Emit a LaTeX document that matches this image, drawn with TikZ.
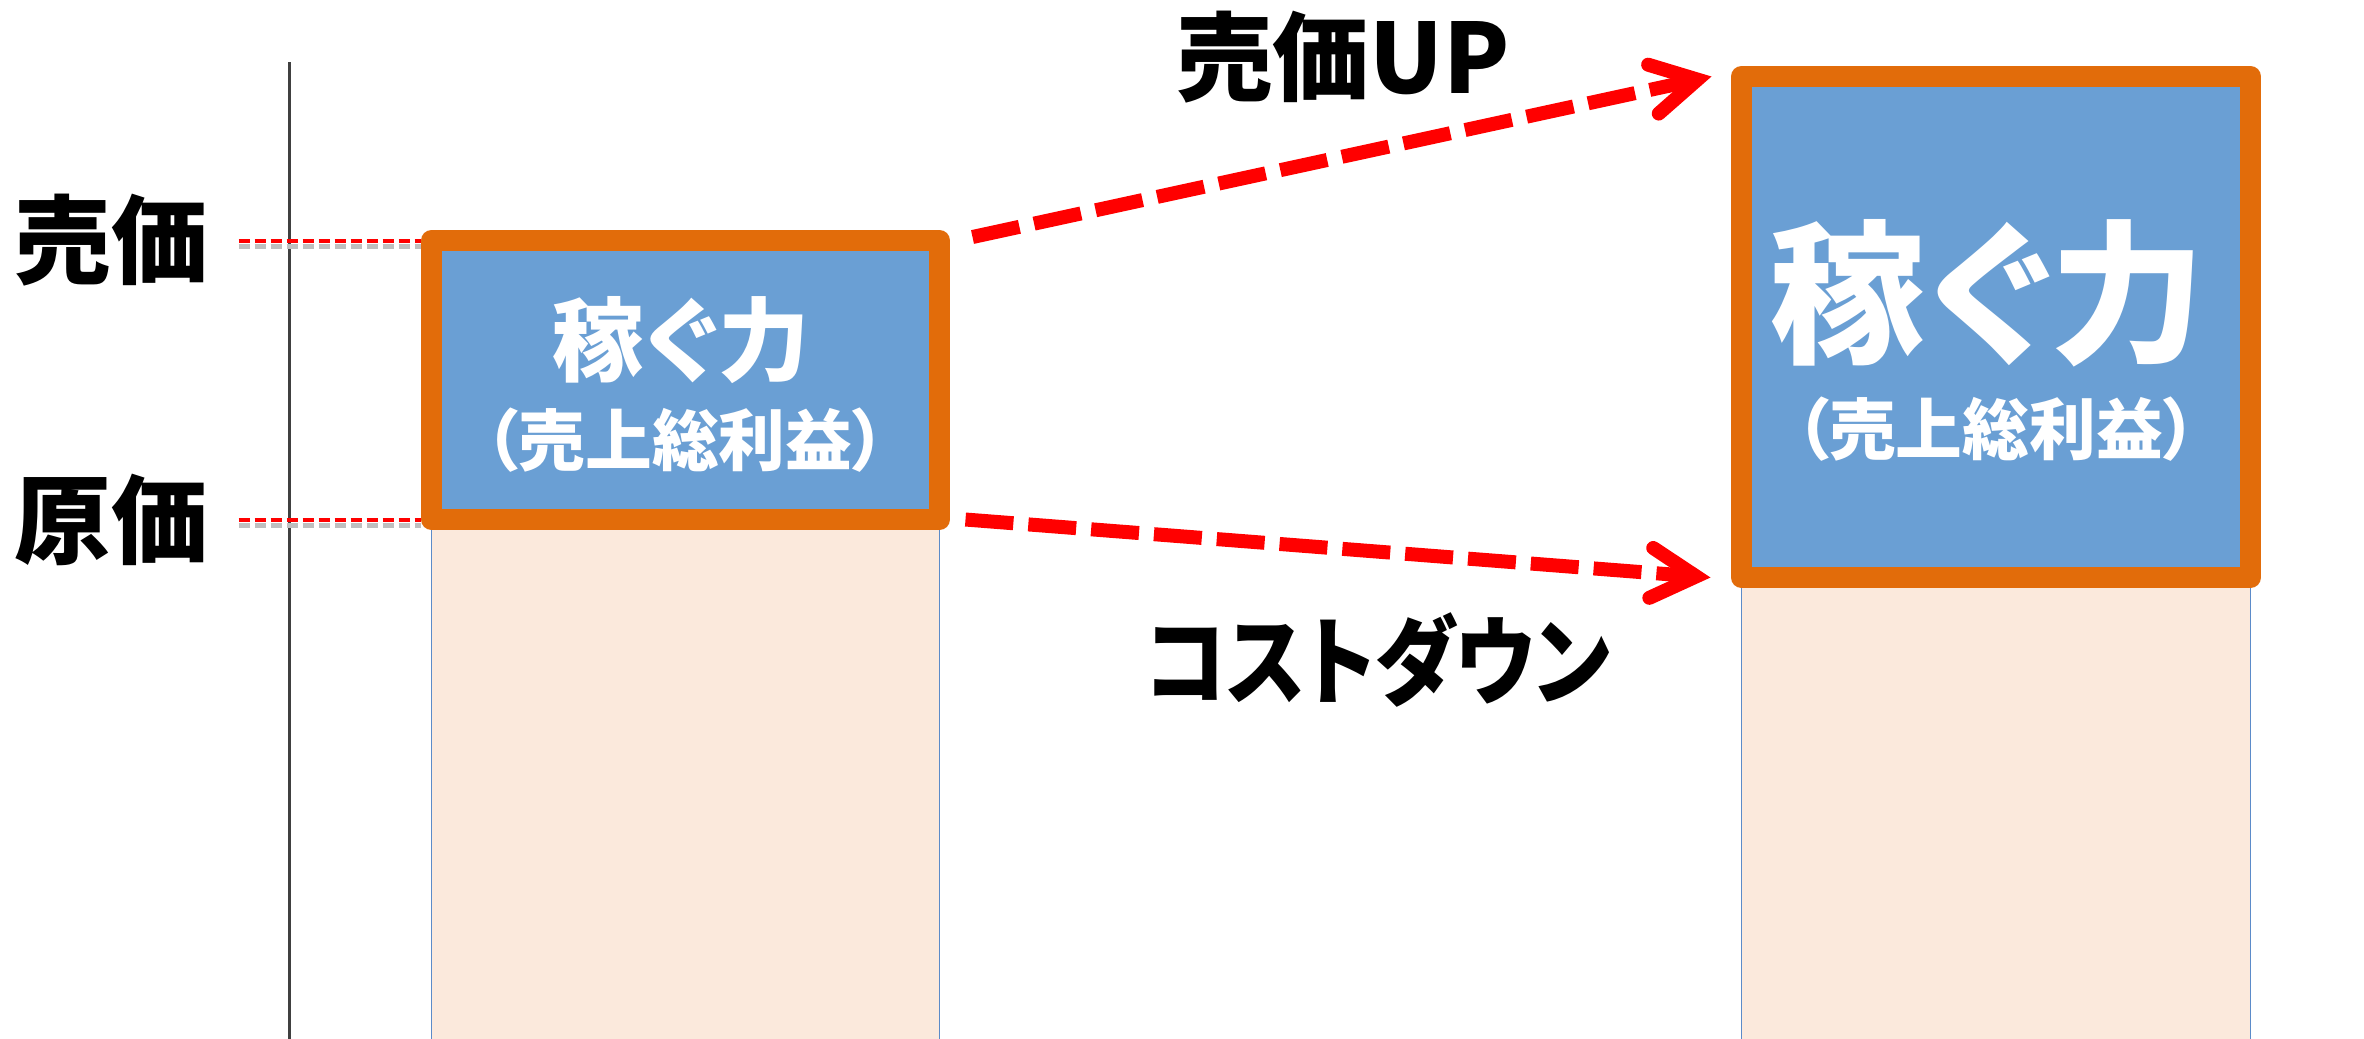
\documentclass[tikz,border=0pt]{standalone}
\usepackage{fontspec}
\newfontfamily\jpfont{Noto Sans CJK JP}[RawFeature=+palt]
\usetikzlibrary{positioning,arrows.meta}
\definecolor{boxorange}{HTML}{E26C0A}
\definecolor{boxblue}{HTML}{6A9FD4}
\definecolor{colbeige}{HTML}{FBE9DC}
\definecolor{colblue}{HTML}{5B8BC9}
\definecolor{axisgray}{HTML}{404040}
\tikzset{
  column/.style={draw=colblue, fill=colbeige, line width=0.015cm, inner sep=0pt, outer sep=0pt},
  profit/.style={draw=boxorange, fill=boxblue, line width=0.21cm, line join=round, inner sep=0pt, outer sep=0pt},
  pricelabel/.style={inner sep=0pt, font=\jpfont\bfseries\fontsize{27.5}{32}\selectfont},
  earnsmall/.style={inner sep=0pt, text=white, font=\jpfont\bfseries\fontsize{26}{30}\selectfont},
  earnbig/.style={inner sep=0pt, text=white, font=\jpfont\bfseries\fontsize{44}{50}\selectfont},
  grosstext/.style={inner sep=0pt, text=white, font=\jpfont\bfseries\fontsize{19}{23}\selectfont},
  priceline/.style={draw=red, line width=0.04cm, dash pattern=on 0.11cm off 0.05cm},
  priceshadow/.style={draw=black!25, line width=0.05cm, dash pattern=on 0.11cm off 0.05cm},
  shiftarrow/.style={draw=red, line width=0.14cm, dash pattern=on 0.48cm off 0.15cm,
    -{Straight Barb[length=0.45cm,width=0.5cm,line cap=round,line join=miter]}}
}
\begin{document}
\begin{tikzpicture}
  \useasboundingbox (0,0) rectangle (23.64,-10.38);
  % Saeulen
  \node[column, minimum width=5.08cm, minimum height=8.2cm, anchor=north] (col1) at (6.855,-2.405) {};
  \node[column, minimum width=5.09cm, minimum height=9.9cm, anchor=north] (col2) at (19.96,-0.765) {};
  % Achse
  \draw[axisgray, line width=0.03cm] (2.89,-0.62) -- (2.89,-10.5);
  % Kaesten
  \node[profit, minimum width=5.08cm, minimum height=2.79cm, anchor=north] (box1) at (col1.north) {};
  \node[profit, minimum width=5.09cm, minimum height=5.01cm, anchor=north] (box2) at (col2.north) {};
  \node[earnsmall] (earn1) at ([shift={(-0.045cm,0.40cm)}]box1.center) {稼ぐ力};
  \node[grosstext] (gross1) at ([yshift=-0.60cm]box1.center) {（売上総利益）};
  \node[earnbig] (earn2) at ([shift={(-0.08cm,0.34cm)}]box2.center) {稼ぐ力};
  \node[grosstext] (gross2) at ([yshift=-1.02cm]box2.center) {（売上総利益）};
  % Preislinien
  \coordinate[left=1.93cm of box1.north west] (sellL);
  \coordinate[left=1.93cm of box1.south west] (costL);
  \foreach \p in {sellL,costL}{
    \draw[priceshadow] ([yshift=-0.06cm]\p) -- ++(1.82,0);
    \draw[priceline] (\p) -- ++(1.82,0);
  }
  \node[pricelabel, left=0.3cm of sellL] (sell) {売価};
  \node[pricelabel, left=0.3cm of costL] (cost) {原価};
  % Pfeile
  \draw[shiftarrow] ([shift={(0.33cm,0.035cm)}]box1.north east) -- ([xshift=-0.30cm]box2.north west);
  \draw[shiftarrow] ([xshift=0.26cm]box1.south east) -- ([xshift=-0.31cm]box2.south west);
  \node[pricelabel] (up) at (13.43,-0.57) {売価UP};
  \node[pricelabel] (down) at (13.78,-6.60) {\scalebox{0.86}[1]{コストダウン}};
\end{tikzpicture}
\end{document}
